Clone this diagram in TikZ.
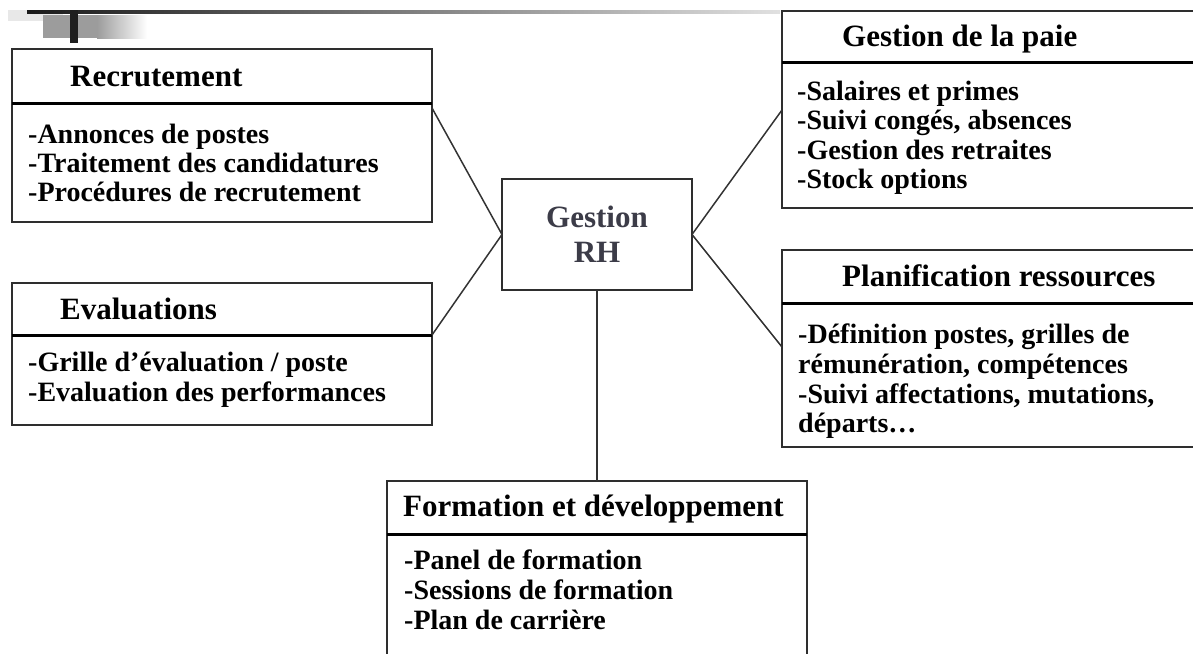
\documentclass[tikz,border=0pt]{standalone}
\usepackage{fontspec}
\setmainfont{Liberation Serif}
\definecolor{boxline}{HTML}{2E2E2E}
\definecolor{linkgray}{HTML}{333333}
\definecolor{coretext}{HTML}{3C3C48}
\definecolor{barlight}{HTML}{E8E8E8}
\definecolor{bargray}{HTML}{9C9C9C}
\begin{document}
\begin{tikzpicture}[x=1pt,y=-1pt,
  box/.style={draw=boxline, line width=2pt, rectangle, inner sep=0pt, outer sep=0pt, anchor=north west, fill=white},
  divider/.style={line width=3pt, black},
  link/.style={draw=linkgray, line width=1.5pt},
  head/.style={anchor=base west, inner sep=0pt, font=\fontsize{31}{31}\selectfont\bfseries},
  item/.style={anchor=base west, inner sep=0pt, font=\fontsize{28}{29}\selectfont\bfseries},
  core/.style={anchor=base, inner sep=0pt, font=\fontsize{31}{31}\selectfont\bfseries, text=coretext}]
\useasboundingbox (0,0) rectangle (1193,653);
\clip (0,0) rectangle (1193,653);

% slide ornament in the top left corner
\fill[barlight] (8,10) rectangle (63,21);
\fill[bargray] (43,15) rectangle (97,38);
\shade[left color=bargray, right color=white] (97,15) rectangle (147,38);
\shade[left color=black!90, right color=black!12] (27,10.5) rectangle (780,13.5);
\fill[black!88] (70,10) rectangle (78,43);

% boxes
\node[box, minimum width=420pt, minimum height=173pt] (rec) at (12,49) {};
\node[box, minimum width=420pt, minimum height=142pt] (eva) at (12,283) {};
\node[box, minimum width=440pt, minimum height=197pt] (pay) at (782,11) {};
\node[box, minimum width=440pt, minimum height=197pt] (pla) at (782,250) {};
\node[box, minimum width=420pt, minimum height=250pt] (frm) at (387,481) {};
\node[box, minimum width=190pt, minimum height=111pt] (rh) at (502,179) {};

% header separators
\draw[divider] (12,103) -- (432,103);
\draw[divider] (12,335) -- (432,335);
\draw[divider] (782,62) -- (1222,62);
\draw[divider] (782,303) -- (1222,303);
\draw[divider] (387,534) -- (807,534);

% connectors to the central box
\draw[link] ([yshift=-59pt]rec.north east) -- (rh.west);
\draw[link] ([yshift=-52pt]eva.north east) -- (rh.west);
\draw[link] (rh.east) -- ([yshift=-99pt]pay.north west);
\draw[link] (rh.east) -- ([yshift=-97pt]pla.north west);
\draw[link] (rh.south) -- (frm.north);

% central box
\node[core] (rhA) at (597,227) {Gestion};
\node[core] (rhB) at (597,262) {RH};

% Recrutement
\node[head] (recH) at (70,86) {Recrutement};
\node[item] (rec1) at (28,143) {-Annonces de postes};
\node[item] (rec2) at (28,172) {-Traitement des candidatures};
\node[item] (rec3) at (28,201) {-Procédures de recrutement};

% Evaluations
\node[head] (evaH) at (60,319) {Evaluations};
\node[item] (eva1) at (28,371) {-Grille d’évaluation / poste};
\node[item] (eva2) at (28,401) {-Evaluation des performances};

% Gestion de la paie
\node[head] (payH) at (842,46) {Gestion de la paie};
\node[item] (pay1) at (797,100) {-Salaires et primes};
\node[item] (pay2) at (797,129.5) {-Suivi congés, absences};
\node[item] (pay3) at (797,159) {-Gestion des retraites};
\node[item] (pay4) at (797,188.5) {-Stock options};

% Planification ressources
\node[head] (plaH) at (842,286) {Planification ressources};
\node[item] (pla1) at (798,343) {-Définition postes, grilles de};
\node[item] (pla2) at (798,373) {rémunération, compétences};
\node[item] (pla3) at (798,403) {-Suivi affectations, mutations,};
\node[item] (pla4) at (798,432) {départs…};

% Formation et développement
\node[head] (frmH) at (403,516) {Formation et développement};
\node[item] (frm1) at (404,569) {-Panel de formation};
\node[item] (frm2) at (404,599) {-Sessions de formation};
\node[item] (frm3) at (404,629) {-Plan de carrière};
\end{tikzpicture}
\end{document}
